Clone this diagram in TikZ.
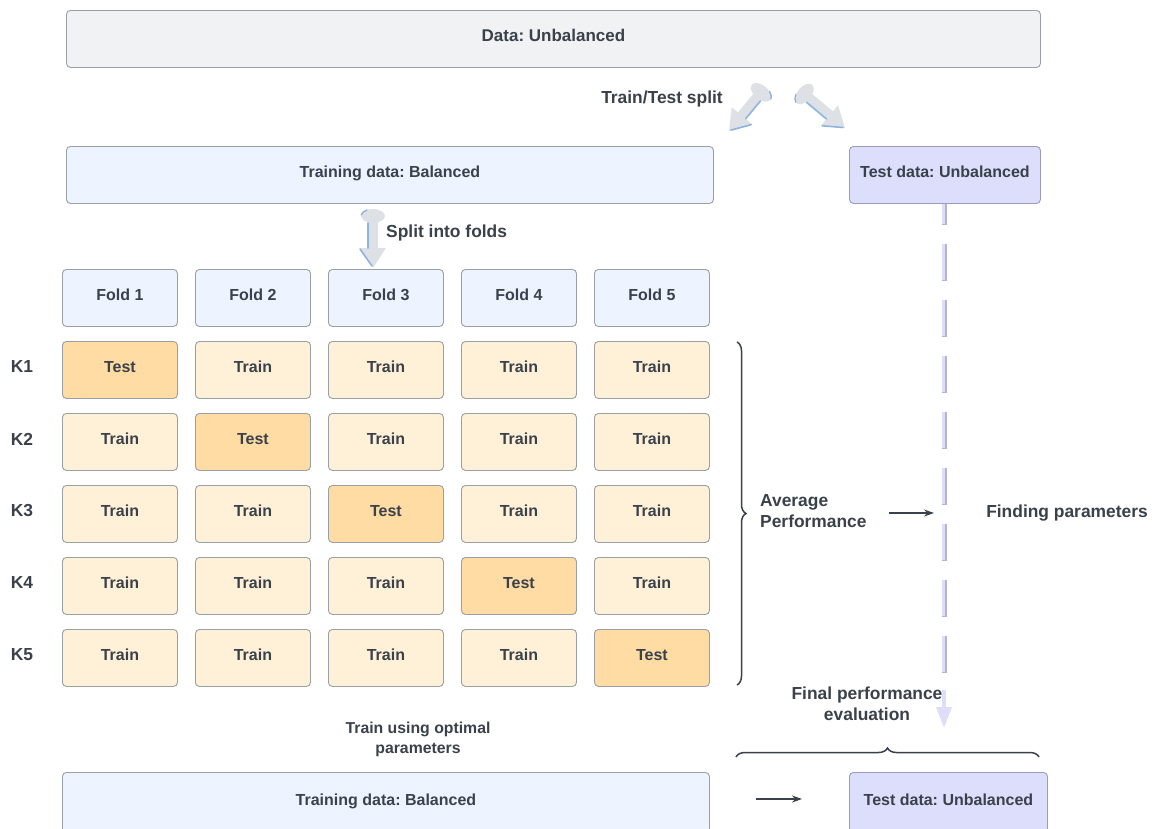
\documentclass[tikz,border=0pt]{standalone}
\usepackage{fontspec}
\setmainfont{Liberation Sans}
\usetikzlibrary{decorations.pathreplacing,arrows.meta,calc}
\frenchspacing

\definecolor{ink}{HTML}{3A414A}
\definecolor{grayfill}{HTML}{F1F2F4}
\definecolor{grayline}{HTML}{9A9FA5}
\definecolor{bluefill}{HTML}{EDF4FF}
\definecolor{lavfill}{HTML}{DDDEFC}
\definecolor{lavline}{HTML}{9A9BBE}
\definecolor{dashedge}{HTML}{B4B5CC}
\definecolor{trainfill}{HTML}{FFF1D7}
\definecolor{testfill}{HTML}{FFDCA4}
\definecolor{arrowfill}{HTML}{DDE1E6}
\definecolor{arrowedge}{HTML}{8FB3E0}

% fat "block" arrow between two named coordinates; #3 = side (+1/-1) of the blue edge
\newcommand\blockarrow[3]{%
  \pgfpointdiff{\pgfpointanchor{#1}{center}}{\pgfpointanchor{#2}{center}}%
  \pgfgetlastxy{\bax}{\bay}%
  \pgfmathsetmacro\baang{atan2(\bay,\bax)}%
  \pgfmathsetmacro\balen{veclen(\bax,\bay)}%
  \begin{scope}[shift={(#1)}, rotate=\baang, x=1pt, y=1pt]
    \fill[arrowfill] (0,-5) -- ({\balen-20},-5) -- ({\balen-20},-13) -- (\balen,0)
      -- ({\balen-20},13) -- ({\balen-20},5) -- (0,5) -- cycle;
    \fill[arrowfill] (3,0) ellipse [x radius=7, y radius=12];
    \draw[arrowedge, line width=1.6pt, line cap=round] (10,{#3*5}) -- ({\balen-20},{#3*5});
    \draw[arrowedge, line width=1.6pt, line cap=round] ({\balen-19},{#3*13}) -- ({\balen-2},{#3*1});
    \draw[arrowedge, line width=1.4pt, line cap=round] (-3,{#3*6}) arc[start angle=150*#3, end angle=100*#3, x radius=7, y radius=12];
  \end{scope}}

\tikzset{
  box/.style={draw=grayline, line width=0.9pt, rounded corners=4pt, text=ink,
    font=\bfseries\fontsize{16}{19}\selectfont, inner sep=0pt, anchor=north west,
    text height=11.5pt, text depth=6pt},
  cell/.style={box, minimum width=115pt, minimum height=57pt},
  lbl/.style={text=ink, font=\bfseries\fontsize{17.4}{21}\selectfont, inner sep=0pt},
  small/.style={text=ink, font=\bfseries\fontsize{15.8}{20}\selectfont, inner sep=0pt},
  thinarrow/.style={draw=ink, line width=1.2pt, -{Stealth[length=10pt,width=7pt]}},
  curly/.style={draw=ink, line width=1.5pt, decorate, decoration={brace, amplitude=9pt}},
}

\begin{document}
\begin{tikzpicture}[x=1pt, y=-1pt]
\clip (0,0) rectangle (1156,828);
\fill[white] (0,0) rectangle (1156,828);

% data and the train/test split
\node[box, fill=grayfill, minimum width=974pt, minimum height=57pt,
  font=\bfseries\fontsize{17}{20}\selectfont] (data) at (66,10) {Data: Unbalanced};
\node[box, fill=bluefill, minimum width=647pt, minimum height=57pt] (train) at (66,146) {Training data: Balanced};
\node[box, fill=lavfill, draw=lavline, minimum width=191pt, minimum height=57pt] (test) at (849,146) {Test data: Unbalanced};

\node[lbl] (ttsplit) at (662,99) {Train/Test split};
\coordinate (tt1a) at (763,90);  \coordinate (tt1b) at (729,131);
\coordinate (tt2a) at (802,92);  \coordinate (tt2b) at (845,128);
\blockarrow{tt1a}{tt1b}{1}
\blockarrow{tt2a}{tt2b}{-1}

% split into folds
\node[lbl, anchor=west] (splitlbl) at (386,233) {Split into folds};
\coordinate (sfa) at (373,213); \coordinate (sfb) at (373,268);
\blockarrow{sfa}{sfb}{-1}

\foreach \i in {1,...,5} {
  \node[cell, fill=bluefill] (f\i) at ({62+133*(\i-1)},269) {Fold \i};
}

% cross-validation grid
\foreach \k in {1,...,5} {
  \node[lbl] (k\k) at (22,{367+72*(\k-1)}) {K\k};
  \foreach \i in {1,...,5} {
    \ifnum\i=\k \def\cellfill{testfill}\def\celltxt{Test}%
    \else \def\cellfill{trainfill}\def\celltxt{Train}\fi
    \node[cell, fill=\cellfill] (c\k\i) at ({62+133*(\i-1)},{341+72*(\k-1)}) {\celltxt};
  }
}

% averaging brace
\coordinate (bra) at (737,342); \coordinate (brb) at (737,685);
\draw[curly] (bra) -- (brb);
\node[lbl, anchor=west, align=left] (avg) at (760,511) {Average\\Performance};
\coordinate (avgA) at (889,513); \coordinate (avgB) at (934,513);
\draw[thinarrow] (avgA) -- (avgB);
\node[lbl] (find) at (1067,513) {Finding parameters};

% dashed connection from the test data down to the final evaluation
\coordinate (dashend) at (944,690);
\coordinate (dashtip) at (944,728);
\draw[dashedge, line width=4.5pt, dash pattern=on 37pt off 19pt, dash phase=16pt] ([xshift=0.5pt]test.south -| dashend) -- ([xshift=0.5pt]dashend);
\draw[lavfill, line width=3pt, dash pattern=on 36pt off 20pt, dash phase=16pt] ([xshift=-0.4pt]test.south -| dashend) -- ([xshift=-0.4pt]dashend);
\draw[lavfill, line width=3.5pt, -{Triangle[width=15pt,length=21pt]}] (dashend) -- (dashtip);

\node[lbl, align=center] (final) at (867,704) {Final performance\\evaluation};
\coordinate (bba) at (736,757); \coordinate (bbb) at (1039,757);
\draw[curly] (bba) -- (bbb);

% final training and evaluation
\node[small, align=center] (opt) at (418,739) {Train using optimal\\parameters};
\node[box, fill=bluefill, minimum width=647pt, minimum height=60pt] (train2) at (62,772) {Training data: Balanced};
\node[box, fill=lavfill, draw=lavline, minimum width=198pt, minimum height=60pt] (test2) at (849,772) {Test data: Unbalanced};
\coordinate (botA) at (756,799); \coordinate (botB) at (802,799);
\draw[thinarrow] (botA) -- (botB);
\end{tikzpicture}
\end{document}
